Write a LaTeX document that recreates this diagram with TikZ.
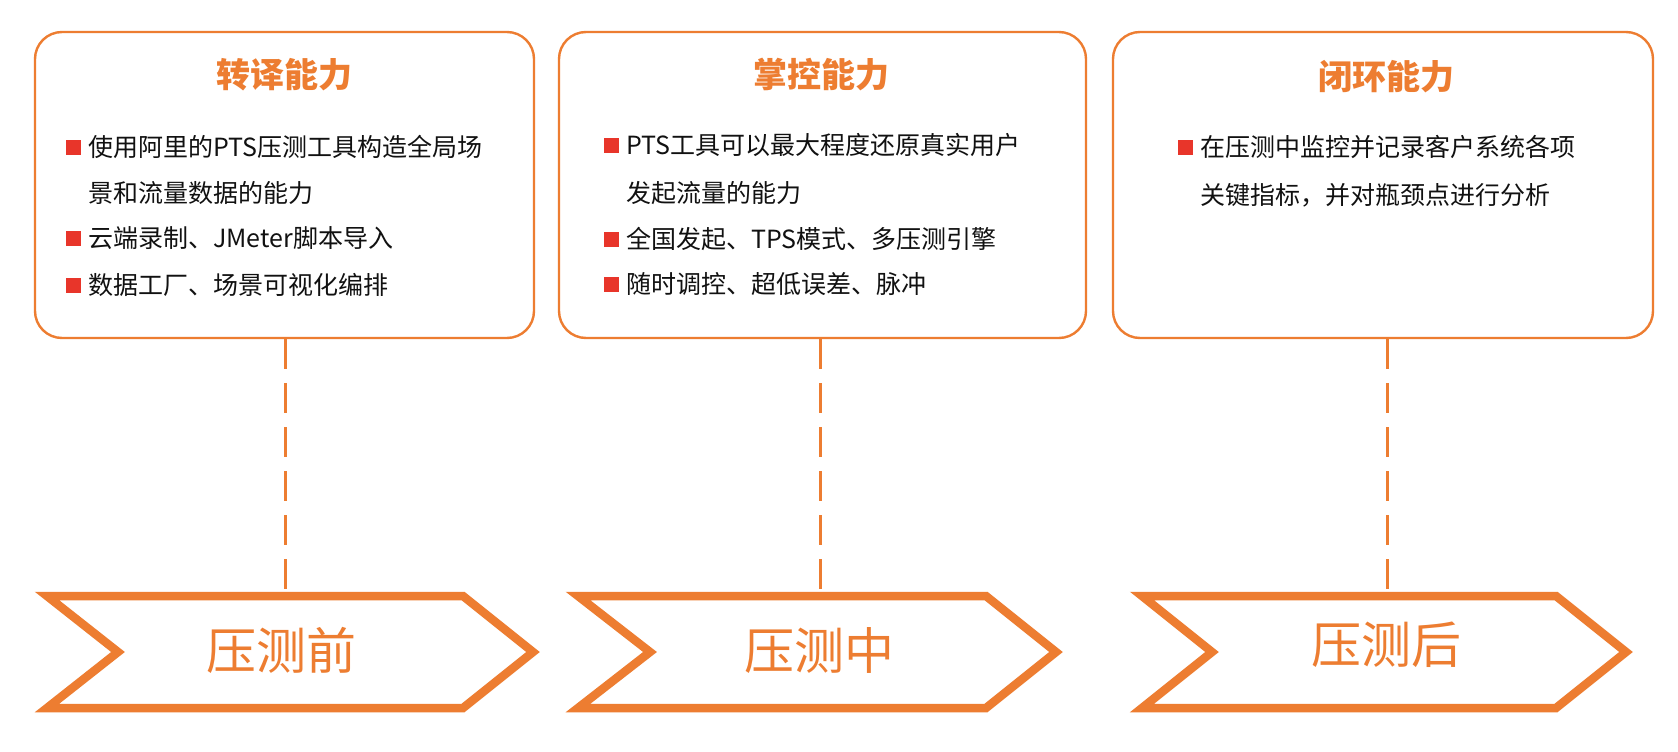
\documentclass[tikz,border=0pt]{standalone}
\usepackage{fontspec}
\setmainfont{Noto Sans CJK SC}
\definecolor{org}{HTML}{ED7D31}
\definecolor{bred}{HTML}{E8352A}
\definecolor{txt}{HTML}{111111}
\tikzset{
  capbox/.style={draw=org, line width=2.4pt, rounded corners=27pt, fill=white, inner sep=0pt},
  title/.style={text=org, font=\fontsize{34}{40}\selectfont\bfseries, inner sep=0pt},
  item/.style={text=txt, font=\fontsize{25}{30}\selectfont, anchor=west, inner sep=0pt},
  sq/.style={fill=bred, minimum size=15pt, inner sep=0pt},
  chev/.style={draw=org, line width=8.5pt, miter limit=10, fill=white},
  stage/.style={text=org, font=\fontsize{50}{60}\selectfont, inner sep=0pt},
  link/.style={draw=org, line width=3pt, dash pattern=on 30pt off 14pt},
}
\begin{document}
\begin{tikzpicture}[x=1pt,y=-1pt]
\useasboundingbox[fill=white] (0,0) rectangle (1678,752);

% boxes
\node[capbox, minimum width=499pt, minimum height=306pt] (b1) at (284.5,185) {};
\node[capbox, minimum width=527pt, minimum height=306pt] (b2) at (822.5,185) {};
\node[capbox, minimum width=540pt, minimum height=306pt] (b3) at (1383,185) {};

% titles
\node[title] (t1) at (284,75) {转译能力};
\node[title] (t2) at (821,75) {掌控能力};
\node[title] (t3) at (1386,77) {闭环能力};

% box 1 items
\node[sq] (s11) at (73,147) {};
\node[item] (i11) at (88,147) {使用阿里的PTS压测工具构造全局场};
\node[item] (i12) at (88,193) {景和流量数据的能力};
\node[sq] (s13) at (73,238) {};
\node[item] (i13) at (88,238) {云端录制、JMeter脚本导入};
\node[sq] (s14) at (73,285) {};
\node[item] (i14) at (88,285) {数据工厂、场景可视化编排};

% box 2 items
\node[sq] (s21) at (611,145) {};
\node[item] (i21) at (626,145) {PTS工具可以最大程度还原真实用户};
\node[item] (i22) at (626,193) {发起流量的能力};
\node[sq] (s23) at (611,239) {};
\node[item] (i23) at (626,239) {全国发起、TPS模式、多压测引擎};
\node[sq] (s24) at (611,284) {};
\node[item] (i24) at (626,284) {随时调控、超低误差、脉冲};

% box 3 items
\node[sq] (s31) at (1185,147) {};
\node[item] (i31) at (1200,147) {在压测中监控并记录客户系统各项};
\node[item] (i32) at (1200,195) {关键指标，并对瓶颈点进行分析};

% chevrons
\draw[chev] (47,596) -- (463,596) -- (533,652) -- (463,708) -- (47,708) -- (118,652) -- cycle;
\draw[chev] (578,596) -- (986,596) -- (1056,652) -- (986,708) -- (578,708) -- (650,652) -- cycle;
\draw[chev] (1142,596) -- (1556,596) -- (1626,652) -- (1556,708) -- (1142,708) -- (1212,652) -- cycle;
\coordinate (c1) at (285,592);
\coordinate (c2) at (820,592);
\coordinate (c3) at (1387,592);

\node[stage] (l1) at (281,650) {压测前};
\node[stage] (l2) at (819,650) {压测中};
\node[stage] (l3) at (1386,645) {压测后};

% connectors
\draw[link] (b1.south -| c1) -- (c1);
\draw[link] (b2.south -| c2) -- (c2);
\draw[link] (b3.south -| c3) -- (c3);
\end{tikzpicture}
\end{document}
